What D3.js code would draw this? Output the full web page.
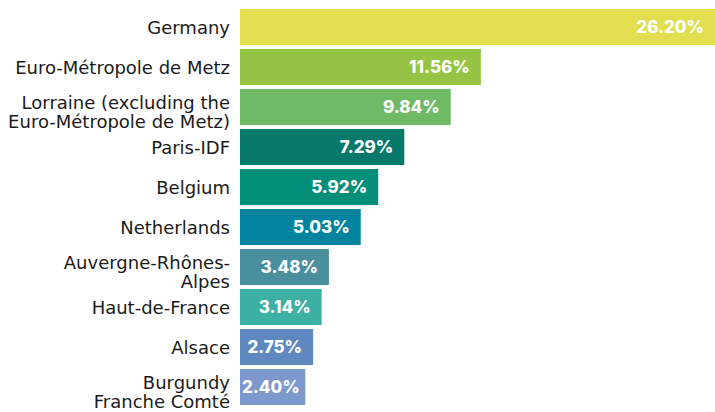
<!DOCTYPE html>
<html>
<head>
<meta charset="utf-8">
<script src="https://cdn.jsdelivr.net/npm/d3@7"></script>
<style>
  body { margin: 0; background: #fff; }
  svg { display: block; }
</style>
</head>
<body>
<div id="chart"></div>
<script>
// category labels, one entry per line of text
const categories = [
    ["Germany"],
    ["Euro-Métropole de Metz"],
    ["Lorraine (excluding the", "Euro-Métropole de Metz)"],
    ["Paris-IDF"],
    ["Belgium"],
    ["Netherlands"],
    ["Auvergne-Rhônes-", "Alpes"],
    ["Haut-de-France"],
    ["Alsace"],
    ["Burgundy", "Franche Comté"]
];
const shares = [26.20, 11.56, 9.84, 7.29, 5.92, 5.03, 3.48, 3.14, 2.75, 2.40];
const colors = ["#e2de50", "#95c344", "#6fba65", "#07796c", "#038e7a", "#0284a0",
    "#498f9e", "#3cb0a5", "#6088c0", "#7d98cc"];

function drawBars(containerId) {
    const W = 715, H = 412;
    const margin = { top: 9, right: 0, bottom: 7, left: 240 };

    const svg = d3.select(`#${containerId}`)
        .append("svg")
        .attr("width", W)
        .attr("height", H);

    const rows = categories.map((c, i) => ({ lines: c, value: shares[i], color: colors[i], key: i }));

    const y = d3.scaleBand()
        .domain(rows.map(d => d.key))
        .range([margin.top, H - margin.bottom])
        .paddingInner(0.1)
        .paddingOuter(0);

    // the source graphic does not scale bars linearly; a power scale follows it best
    const x = d3.scalePow()
        .exponent(0.83)
        .domain([0, d3.max(shares)])
        .range([margin.left, W - margin.right]);

    svg.selectAll(".bar")
        .data(rows)
        .join("rect")
        .attr("class", "bar")
        .attr("x", x(0))
        .attr("y", d => y(d.key))
        .attr("width", d => x(d.value) - x(0))
        .attr("height", y.bandwidth())
        .attr("fill", d => d.color);

    // category labels
    const labels = svg.selectAll(".label")
        .data(rows)
        .join("text")
        .attr("class", "label")
        .attr("text-anchor", "end")
        .attr("font-family", "'DejaVu Sans', sans-serif")
        .attr("font-size", 18)
        .attr("fill", "#1a1a1a");

    labels.each(function(d) {
        const cy = y(d.key) + y.bandwidth() / 2;
        const first = d.lines.length > 1 ? cy + 1.5 : cy + 6.5;
        d3.select(this).selectAll("tspan")
            .data(d.lines)
            .join("tspan")
            .attr("x", margin.left - 10)
            .attr("y", (t, j) => first + j * 19)
            .text(t => t);
    });

    // value labels inside the bars
    svg.selectAll(".value")
        .data(rows)
        .join("text")
        .attr("class", "value")
        .attr("text-anchor", "end")
        .attr("font-family", "Inter, 'Open Sans', sans-serif")
        .attr("font-weight", 800)
        .attr("font-size", 17)
        .attr("fill", "#fff")
        .attr("y", d => y(d.key) + y.bandwidth() / 2 + 6)
        .text(d => d.value.toFixed(2) + "%")
        .attr("x", function(d) {
            const w = this.getComputedTextLength();
            return Math.max(x(d.value) - 11, x(0) + w + 2);
        });
}

drawBars("chart");
</script>
</body>
</html>
